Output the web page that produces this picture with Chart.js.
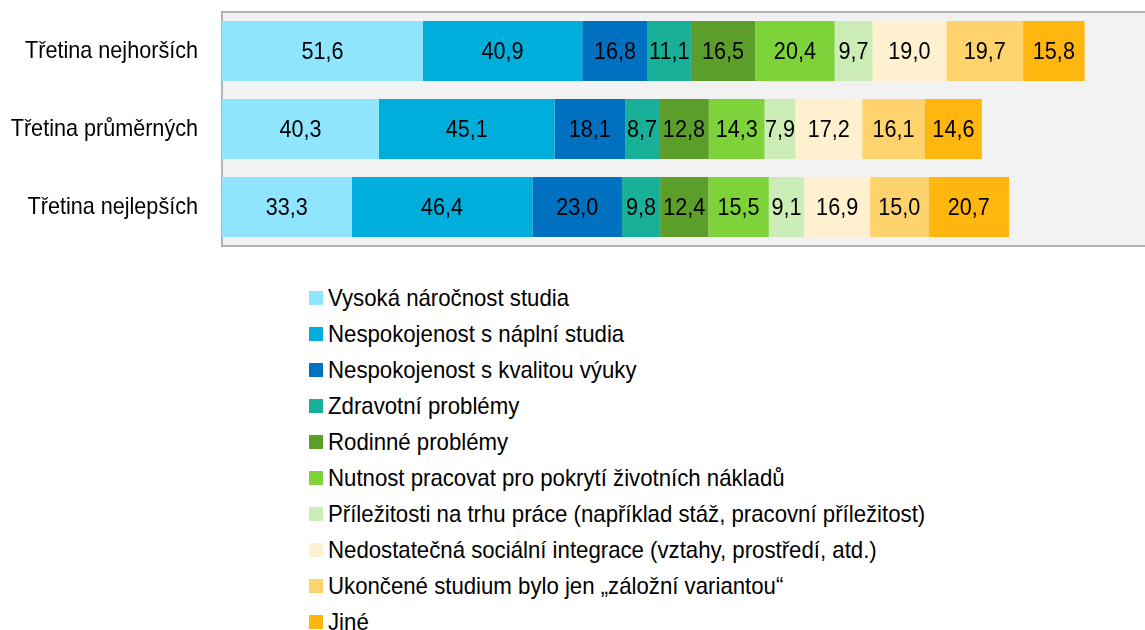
<!DOCTYPE html>
<html>
<head>
<meta charset="utf-8">
<script src="https://cdn.jsdelivr.net/npm/chart.js@4.4.0/dist/chart.umd.min.js"></script>
<style>
  body { margin: 0; background: #fff; width: 1145px; height: 630px; overflow: hidden; }
  #wrap { position: absolute; left: 0; top: 0; width: 1145px; height: 262px; }
  #legend { position: absolute; left: 309px; top: 280px; margin: 0; padding: 0; list-style: none; }
  #legend li { height: 36px; display: flex; align-items: center; font-family: 'Liberation Sans', Arial, sans-serif; font-size: 24px; color: #000; white-space: nowrap; }
  #legend span.box { width: 14px; height: 14px; margin-right: 5px; display: inline-block; flex: none; }
  #legend span.txt { display: inline-block; transform: scaleX(0.925); transform-origin: left center; }
</style>
</head>
<body>
<div id="wrap"><canvas id="chart"></canvas></div>
<ul id="legend"></ul>
<script>
const FONT = "'Liberation Sans', Arial, sans-serif";
const SQUEEZE = 0.9; // the source font is a narrow Arial

const categories = ['Třetina nejhorších', 'Třetina průměrných', 'Třetina nejlepších'];

const seriesNames = [
  'Vysoká náročnost studia',
  'Nespokojenost s náplní studia',
  'Nespokojenost s kvalitou výuky',
  'Zdravotní problémy',
  'Rodinné problémy',
  'Nutnost pracovat pro pokrytí životních nákladů',
  'Příležitosti na trhu práce (například stáž, pracovní příležitost)',
  'Nedostatečná sociální integrace (vztahy, prostředí, atd.)',
  'Ukončené studium bylo jen „záložní variantou“',
  'Jiné'
];

const colors = ['#8ee5fd', '#00aedb', '#0070c0', '#19b09a', '#5c9e2a', '#7ed23a', '#cdedb7', '#fff0cf', '#fed36e', '#ffb60e'];

// one array per reason, values for the three thirds
const narocnost    = [51.6, 40.3, 33.3];
const naplnStudia  = [40.9, 45.1, 46.4];
const kvalitaVyuky = [16.8, 18.1, 23.0];
const zdravotni    = [11.1, 8.7, 9.8];
const rodinne      = [16.5, 12.8, 12.4];
const pracovat     = [20.4, 14.3, 15.5];
const prilezitosti = [9.7, 7.9, 9.1];
const integrace    = [19.0, 17.2, 16.9];
const zalozni      = [19.7, 16.1, 15.0];
const jine         = [15.8, 14.6, 20.7];

const seriesValues = [narocnost, naplnStudia, kvalitaVyuky, zdravotni, rodinne, pracovat, prilezitosti, integrace, zalozni, jine];

function narrowText(ctx, text, x, y) {
  ctx.save();
  ctx.translate(x, y);
  ctx.scale(SQUEEZE, 1);
  ctx.fillText(text, 0, 0);
  ctx.restore();
}

const plotFrame = {
  id: 'plotFrame',
  beforeDraw(chart) {
    const { ctx, chartArea: a } = chart;
    ctx.save();
    ctx.fillStyle = '#f2f2f2';
    ctx.fillRect(a.left, a.top, a.right - a.left, a.bottom - a.top);
    ctx.strokeStyle = '#b4b4b4';
    ctx.lineWidth = 2;
    ctx.beginPath();
    ctx.moveTo(a.right + 2, a.top);
    ctx.lineTo(a.left, a.top);
    ctx.lineTo(a.left, a.bottom);
    ctx.lineTo(a.right + 2, a.bottom);
    ctx.stroke();
    ctx.restore();
  }
};

const textLayer = {
  id: 'textLayer',
  afterDatasetsDraw(chart) {
    const { ctx } = chart;
    ctx.save();
    ctx.font = '24px ' + FONT;
    ctx.fillStyle = '#000';
    ctx.textBaseline = 'middle';
    // values in the middle of each segment
    ctx.textAlign = 'center';
    chart.data.datasets.forEach((ds, i) => {
      chart.getDatasetMeta(i).data.forEach((bar, j) => {
        const x = (bar.x + bar.base) / 2;
        narrowText(ctx, ds.data[j].toFixed(1).replace('.', ','), x, bar.y + 1);
      });
    });
    // category names left of the plot
    ctx.textAlign = 'right';
    const yScale = chart.scales.y;
    chart.data.labels.forEach((lab, j) => {
      narrowText(ctx, lab, chart.chartArea.left - 24, yScale.getPixelForValue(j));
    });
    ctx.restore();
  }
};

const chart = new Chart(document.getElementById('chart'), {
  type: 'bar',
  data: {
    labels: categories,
    datasets: seriesNames.map((name, i) => ({
      label: name,
      data: seriesValues[i],
      backgroundColor: colors[i],
      borderWidth: 0,
      categoryPercentage: 1,
      barPercentage: 0.77
    }))
  },
  options: {
    indexAxis: 'y',
    responsive: true,
    maintainAspectRatio: false,
    animation: false,
    layout: { padding: { top: 12, bottom: 16, left: 0, right: 0 } },
    plugins: {
      legend: { display: false },
      tooltip: { enabled: false }
    },
    scales: {
      x: { stacked: true, display: false, min: 0, max: 237 },
      y: {
        stacked: true,
        border: { display: false },
        grid: { display: false, drawTicks: false },
        ticks: { display: false },
        afterFit(scale) {
          scale.width = 222;
          scale.paddingTop = 0;
          scale.paddingBottom = 0;
        }
      }
    }
  },
  plugins: [plotFrame, textLayer]
});

const legend = document.getElementById('legend');
chart.data.datasets.forEach((ds) => {
  const li = document.createElement('li');
  const box = document.createElement('span');
  box.className = 'box';
  box.style.background = ds.backgroundColor;
  const txt = document.createElement('span');
  txt.className = 'txt';
  txt.textContent = ds.label;
  li.appendChild(box);
  li.appendChild(txt);
  legend.appendChild(li);
});
</script>
</body>
</html>
